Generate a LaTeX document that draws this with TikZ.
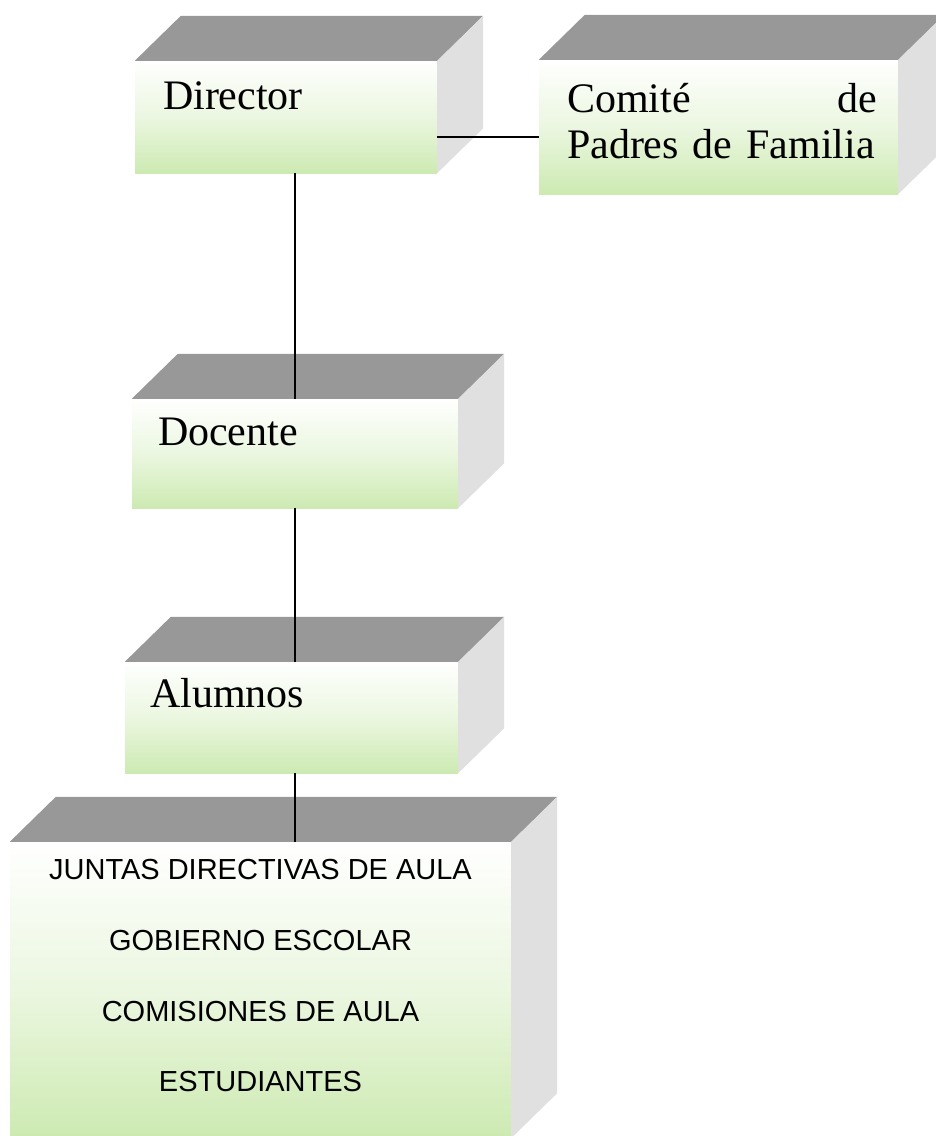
\documentclass[tikz,border=0pt]{standalone}
\usepackage{fontspec}
\setmainfont{Liberation Serif}
\newfontfamily\capsfont{Liberation Sans}
\definecolor{frontgreen}{RGB}{205,234,178}
\definecolor{roofgray}{RGB}{152,152,152}
\definecolor{wallgray}{RGB}{224,224,224}
\tikzset{
  front/.style={rectangle, inner sep=0pt, top color=white, bottom color=frontgreen, middle color=frontgreen!40!white},
  roof/.style={fill=roofgray},
  wall/.style={fill=wallgray},
  lbl/.style={font=\fontsize{42}{46}\selectfont, anchor=base west, inner sep=0pt},
  caps/.style={font=\capsfont\fontsize{29}{33}\selectfont, anchor=base, inner sep=0pt},
  link/.style={line width=2.8pt}
}
\begin{document}
\begin{tikzpicture}[x=1pt, y=-1pt]
\useasboundingbox (0,0) rectangle (936,1136);
\node[front, minimum width=302pt, minimum height=112pt] (director) at (286,117) {};
\node[front, minimum width=359pt, minimum height=134pt] (comite) at (718.5,127) {};
\node[front, minimum width=326pt, minimum height=109pt] (docente) at (295,453.5) {};
\node[front, minimum width=333pt, minimum height=111pt] (alumnos) at (291.5,717.5) {};
\node[front, minimum width=501pt, minimum height=296pt] (juntas) at (260.5,990) {};
\foreach \n in {director,comite,docente,alumnos,juntas}{
  \fill[roof] (\n.north west) -- ++(46,-45) -- ([shift={(46,-45)}]\n.north east) -- (\n.north east) -- cycle;
  \fill[wall] (\n.north east) -- ++(46,-45) -- ([shift={(46,-45)}]\n.south east) -- (\n.south east) -- cycle;
}
\node[lbl] (directorlbl) at ([shift={(28,49)}]director.north west) {Director};
\node[lbl, text width=310pt, align=left] (comitelbl) at ([shift={(28,53)}]comite.north west) {Comité \hfill de\\Padres de Familia};
\node[lbl] (docentelbl) at ([shift={(26,47)}]docente.north west) {Docente};
\node[lbl] (alumnoslbl) at ([shift={(25,46)}]alumnos.north west) {Alumnos};
\foreach \t [count=\i] in {JUNTAS DIRECTIVAS DE AULA, GOBIERNO ESCOLAR, COMISIONES DE AULA, ESTUDIANTES}
  \node[caps] (juntas\i) at ([yshift={-(38+70.7*(\i-1))}]juntas.north) {\t};
\draw[link] (docente.north) -- (docente.north |- director.south);
\draw[link] (docente.south) -- (docente.south |- alumnos.north);
\draw[link] (alumnos.south -| docente.south) -- (docente.south |- juntas.north);
\draw[link] ([yshift=-20pt]director.east) -- ([yshift=-20pt]director.east -| comite.west);
\end{tikzpicture}
\end{document}
